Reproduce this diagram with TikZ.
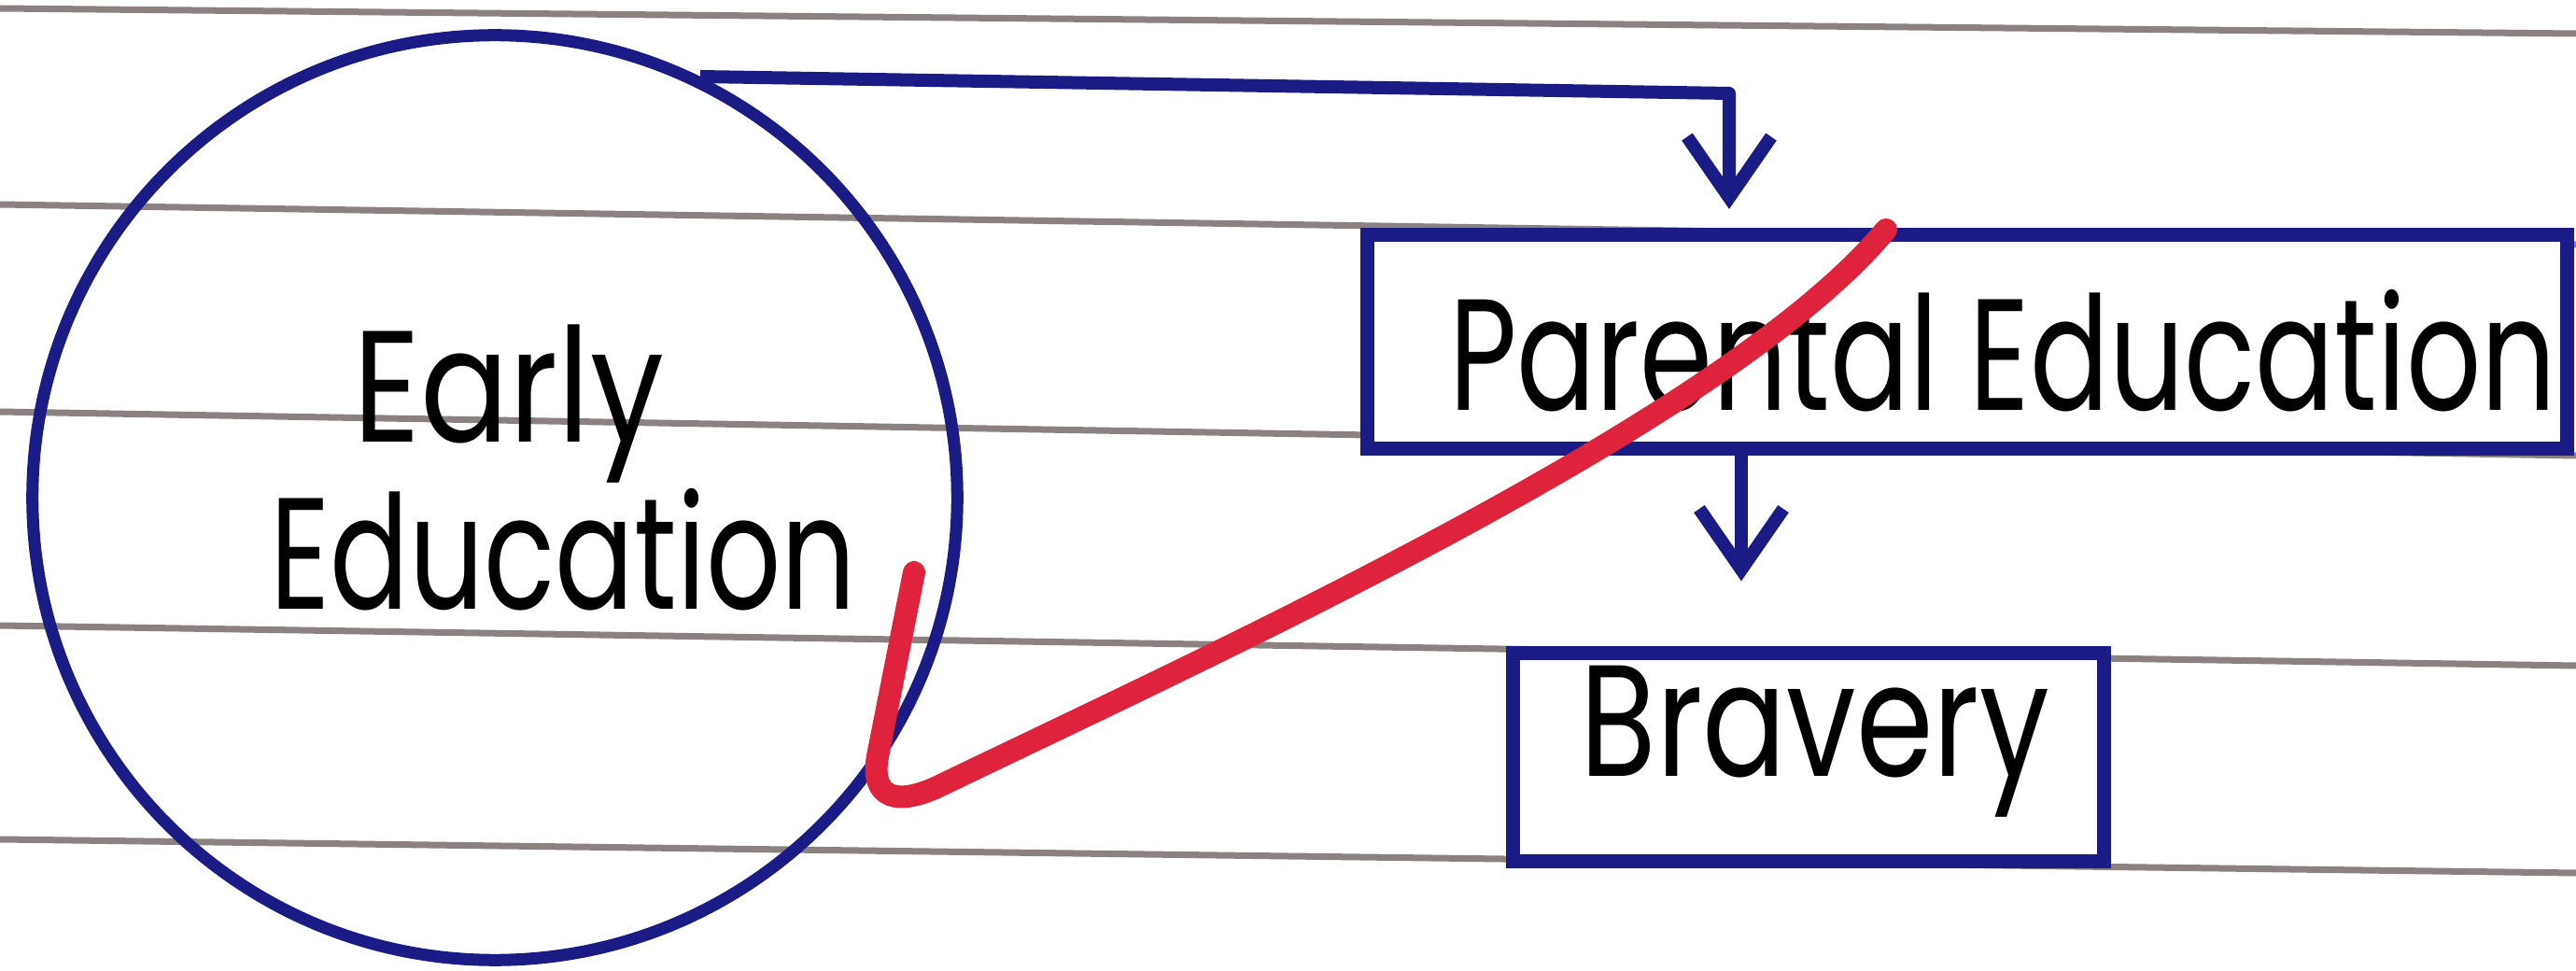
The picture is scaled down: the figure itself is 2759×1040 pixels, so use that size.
\documentclass[tikz,border=0pt]{standalone}
\usepackage{fontspec}
\setmainfont{Poppins}
\usetikzlibrary{arrows.meta}
\definecolor{pen}{HTML}{1B1B85}
\definecolor{redpen}{HTML}{E0233C}
\definecolor{rule}{HTML}{6E6262}
\tikzset{
  ruled/.style={rule, line width=0.07cm, opacity=0.8},
  inkline/.style={pen, line width=0.14cm},
  boxed/.style={draw=pen, line width=0.15cm, rectangle, inner sep=0pt},
  handtext/.style={inner sep=0pt, anchor=base, font=\fontsize{42}{46}\selectfont},
  flow/.style={inkline, -{Straight Barb[length=0.65cm, width=0.9cm, line width=0.14cm]}, line join=round},
  redmark/.style={redpen, line width=0.24cm, line cap=round, line join=round}
}
\begin{document}
\begin{tikzpicture}[x={(0.01cm,0)}, y={(0,-0.01cm)}]
\useasboundingbox (0,0) rectangle (2759,1040);
\fill[white] (0,0) rectangle (2759,1040);
% ruled paper lines
\draw[ruled] (0,9) -- (2759,36);
\draw[ruled] (0,219) -- (2759,262);
\draw[ruled] (0,441) -- (2759,488);
\draw[ruled] (0,670) -- (2759,713);
\draw[ruled] (0,899) -- (2759,935);
% shapes
\node[circle, draw=pen, line width=0.13cm, minimum size=9.9cm, inner sep=0pt] (ee) at (530,533) {};
\node[boxed, fill=white, minimum width=12.85cm, minimum height=2.29cm] (pe) at (2107,366) {};
\node[boxed, fill=white, minimum width=6.33cm, minimum height=2.22cm] (br) at (1937,811) {};
% texts
\node[handtext] (t1) at (545,474) {\scalebox{0.95}[1.15]{Early}};
\node[handtext] (t2) at (603,653) {\scalebox{0.85}[1.15]{Education}};
\node[handtext] (t3) at (2145,440) {\scalebox{0.85}[1.15]{Parental Education}};
\node[handtext] (t4) at (1944,832) {\scalebox{0.9}[1.15]{Bravery}};
% connectors
\coordinate (c1) at (1852,100);
\coordinate (c2) at (1865,481);
\draw[flow, shorten >=0.2cm] (ee.64) -- (c1) -- (c1 |- pe.north);
\draw[flow, shorten >=0.7cm] (pe.south -| c2) -- (c2 |- br.north);
% red mark
\draw[redmark] (979,613) -- (940,810) .. controls (932,855) and (960,865) .. (1010,840)
  .. controls (1300,700) and (1850,450) .. (2020,246);
\end{tikzpicture}
\end{document}
